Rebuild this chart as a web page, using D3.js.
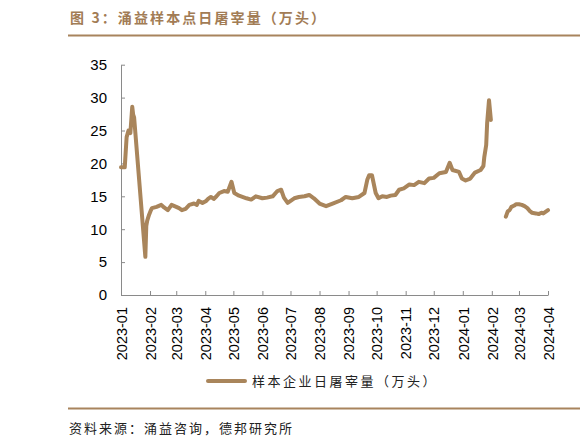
<html>
<head>
<meta charset="utf-8">
<script src="https://cdnjs.cloudflare.com/ajax/libs/d3/7.8.5/d3.min.js"></script>
<style>
	body { margin: 0; background: #fff; }
	svg { display: block; }
</style>
</head>
<body>
<div id="chart"></div>
<script>
// daily slaughter volume (null = gap around Spring Festival 2024)
var dates = [
	"2023-01-01","2023-01-05","2023-01-07","2023-01-09","2023-01-11","2023-01-13","2023-01-14","2023-01-15",
	"2023-01-27","2023-01-28","2023-01-29","2023-01-31","2023-02-02","2023-02-03","2023-02-08","2023-02-13",
	"2023-02-16","2023-02-20","2023-02-24","2023-03-01","2023-03-04","2023-03-07","2023-03-11","2023-03-15",
	"2023-03-20","2023-03-23","2023-03-25","2023-03-29","2023-04-02","2023-04-04","2023-04-07","2023-04-10",
	"2023-04-13","2023-04-16","2023-04-21","2023-04-25","2023-04-29","2023-05-02","2023-05-07","2023-05-15",
	"2023-05-20","2023-05-25","2023-06-01","2023-06-06","2023-06-12","2023-06-17","2023-06-21","2023-06-24",
	"2023-06-28","2023-07-05","2023-07-10","2023-07-16","2023-07-21","2023-07-26","2023-08-01","2023-08-08",
	"2023-08-15","2023-08-24","2023-08-29","2023-09-05","2023-09-12","2023-09-18","2023-09-21","2023-09-23",
	"2023-09-26","2023-09-30","2023-10-03","2023-10-07","2023-10-12","2023-10-16","2023-10-21","2023-10-25",
	"2023-10-30","2023-11-05","2023-11-10","2023-11-15","2023-11-21","2023-11-26","2023-12-01","2023-12-07",
	"2023-12-14","2023-12-18","2023-12-21","2023-12-28","2023-12-31","2024-01-04","2024-01-09","2024-01-14",
	"2024-01-20","2024-01-23","2024-01-24","2024-01-26","2024-01-27","2024-01-29","2024-01-31","2024-02-08",
	"2024-02-16","2024-02-18","2024-02-20","2024-02-22","2024-02-25","2024-02-27","2024-03-01","2024-03-04",
	"2024-03-07","2024-03-10","2024-03-13","2024-03-15","2024-03-19","2024-03-22","2024-03-25","2024-03-27",
	"2024-04-01"
];
var volumes = [
	19.4, 19.4, 24.0, 25.0, 24.6, 28.6, 27.4, 27.0,
	5.8, 10.5, 11.3, 12.2, 12.9, 13.2, 13.4, 13.7,
	13.3, 12.9, 13.7, 13.4, 13.2, 12.9, 13.1, 13.7,
	13.9, 13.7, 14.3, 14.0, 14.3, 14.6, 14.9, 14.6,
	15.0, 15.5, 15.8, 15.7, 17.2, 15.5, 15.1, 14.7,
	14.5, 15.0, 14.7, 14.8, 15.0, 15.8, 16.0, 14.8,
	14.0, 14.7, 14.9, 15.0, 15.2, 14.7, 13.9, 13.5,
	13.9, 14.4, 14.9, 14.7, 14.9, 15.5, 17.5, 18.2,
	18.2, 15.5, 14.7, 15.0, 14.9, 15.1, 15.2, 16.0,
	16.2, 16.8, 16.7, 17.2, 17.0, 17.7, 17.8, 18.5,
	18.7, 20.1, 19.0, 18.7, 17.7, 17.4, 17.7, 18.6,
	19.0, 19.6, 21.0, 22.8, 26.1, 29.6, 26.6, null,
	11.9, 12.7, 12.9, 13.4, 13.6, 13.8, 13.8, 13.7,
	13.5, 13.2, 12.7, 12.5, 12.4, 12.3, 12.5, 12.4,
	12.9
];
var monthTicks = ["2023-01","2023-02","2023-03","2023-04","2023-05","2023-06","2023-07","2023-08",
	"2023-09","2023-10","2023-11","2023-12","2024-01","2024-02","2024-03","2024-04"];
var yTicks = [0, 5, 10, 15, 20, 25, 30, 35];
var titleText = "图 3：涌益样本点日屠宰量（万头）";
var seriesName = "样本企业日屠宰量（万头）";
var sourceText = "资料来源：涌益咨询，德邦研究所";

var W = 582, H = 446;
var brown = "#a9855b";
var axisGray = "#8a8a8a";
var parseDay = d3.timeParse("%Y-%m-%d");
var parseMonth = d3.timeParse("%Y-%m");

var svg = d3.select("#chart").append("svg")
	.attr("width", W)
	.attr("height", H)
	.attr("xmlns", "http://www.w3.org/2000/svg");

// header and footer
svg.append("text")
	.attr("x", 70).attr("y", 23)
	.attr("fill", "#a27c55")
	.style("font-family", "'Noto Sans CJK SC', sans-serif")
	.style("font-weight", "bold")
	.style("font-size", "14px")
	.style("letter-spacing", "2.1px")
	.text(titleText);
svg.append("line")
	.attr("x1", 68).attr("x2", 580).attr("y1", 35.5).attr("y2", 35.5)
	.attr("stroke", "#a8845d").attr("stroke-width", 2);
svg.append("line")
	.attr("x1", 68).attr("x2", 580).attr("y1", 408.5).attr("y2", 408.5)
	.attr("stroke", "#a8845d").attr("stroke-width", 2);
svg.append("text")
	.attr("x", 69).attr("y", 432.5)
	.attr("fill", "#222")
	.style("font-family", "'Noto Sans CJK SC', sans-serif")
	.style("font-size", "13px")
	.style("letter-spacing", "2px")
	.text(sourceText);

// scales
var x = d3.scaleTime()
	.domain([parseMonth("2023-01"), parseMonth("2024-04")])
	.range([121, 548]);
var y = d3.scaleLinear()
	.domain([0, 35])
	.range([295, 64.7]);

// y axis
var yAxis = svg.append("g")
	.attr("transform", "translate(121,0)")
	.call(d3.axisLeft(y).tickValues(yTicks).tickSizeInner(-4).tickSizeOuter(0).tickPadding(14));
yAxis.selectAll("text")
	.attr("fill", "#000")
	.style("font-family", "'Liberation Sans', Arial, sans-serif")
	.style("font-size", "15px");

// x axis
var xAxis = svg.append("g")
	.attr("transform", "translate(0,295)")
	.call(d3.axisBottom(x)
		.tickValues(monthTicks.map(parseMonth))
		.tickFormat(d3.timeFormat("%Y-%m"))
		.tickSizeInner(-4).tickSizeOuter(0));
xAxis.selectAll("text")
	.attr("transform", "rotate(-90)")
	.attr("x", -12)
	.attr("y", 0)
	.attr("dy", "0.36em")
	.attr("fill", "#000")
	.style("text-anchor", "end")
	.style("font-family", "'Liberation Sans', Arial, sans-serif")
	.style("font-size", "14.5px");

svg.selectAll(".domain, .tick line").attr("stroke", axisGray);

// series
var points = dates.map(function(d, i) { return { date: parseDay(d), value: volumes[i] }; });
var line = d3.line()
	.defined(function(d) { return d.value !== null; })
	.x(function(d) { return x(d.date); })
	.y(function(d) { return y(d.value); });

svg.append("path")
	.datum(points)
	.attr("d", line)
	.attr("fill", "none")
	.attr("stroke", brown)
	.attr("stroke-width", 4)
	.attr("stroke-linejoin", "round")
	.attr("stroke-linecap", "round");

// legend
svg.append("line")
	.attr("x1", 208).attr("x2", 245).attr("y1", 381).attr("y2", 381)
	.attr("stroke", brown).attr("stroke-width", 4).attr("stroke-linecap", "round");
svg.append("text")
	.attr("x", 252).attr("y", 381)
	.attr("dy", "0.36em")
	.attr("fill", "#222")
	.style("font-family", "'Noto Sans CJK SC', sans-serif")
	.style("font-size", "13px")
	.style("letter-spacing", "2.5px")
	.text(seriesName);
</script>
</body>
</html>
